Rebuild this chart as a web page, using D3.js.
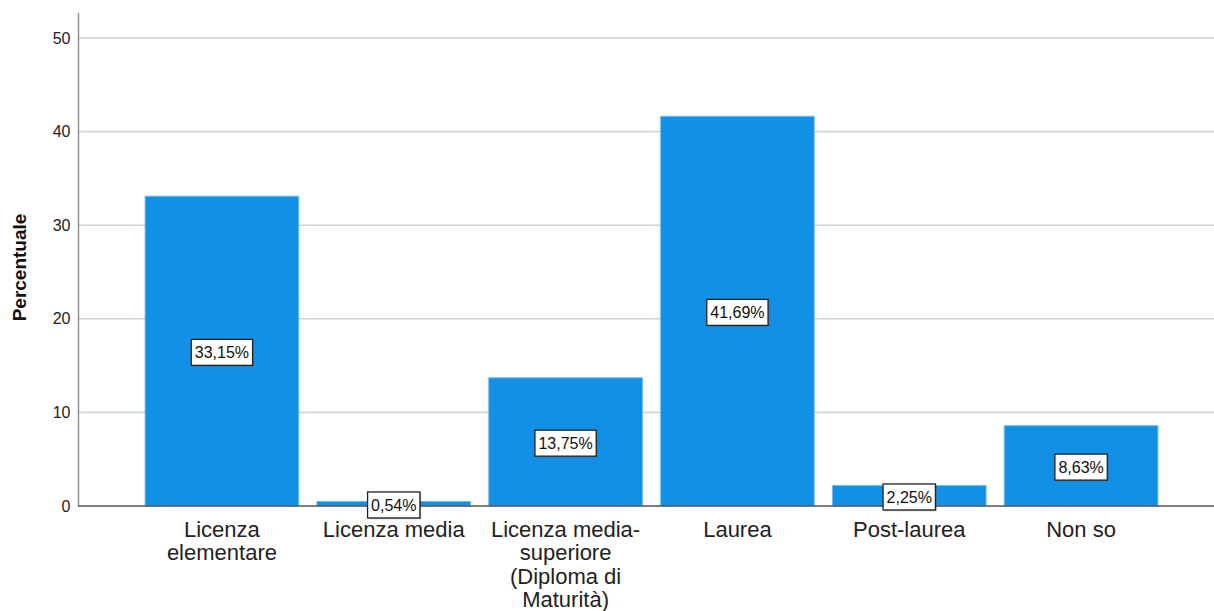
<!DOCTYPE html>
<html>
<head>
<meta charset="utf-8">
<script src="https://cdn.jsdelivr.net/npm/d3@7"></script>
<style>
  html, body { margin: 0; padding: 0; background: #fff; }
  svg { display: block; font-family: "Liberation Sans", Arial, sans-serif; }
</style>
</head>
<body>
<svg id="chart" width="1214" height="611"></svg>
<script>
// Titolo di studio: percentuale di rispondenti per categoria
const categories = [
  "Licenza elementare",
  "Licenza media",
  "Licenza media-superiore (Diploma di Maturità)",
  "Laurea",
  "Post-laurea",
  "Non so"
];
// Righe dell'etichetta dell'asse per ogni categoria
const categoryLines = [
  ["Licenza", "elementare"],
  ["Licenza media"],
  ["Licenza media-", "superiore", "(Diploma di", "Maturità)"],
  ["Laurea"],
  ["Post-laurea"],
  ["Non so"]
];
const percentages = [33.15, 0.54, 13.75, 41.69, 2.25, 8.63];
const yTicks = [0, 10, 20, 30, 40, 50];
const yTitle = "Percentuale";

const svg = d3.select("#chart");
const W = 1214;

const axisX = 78.5;
const plotTop = 13;
const baseY = 506;

const x = d3.scaleBand()
  .domain(categories)
  .range([136, 1167])
  .paddingInner(0.1)
  .paddingOuter(0.05);

const y = d3.scaleLinear()
  .domain([0, 50])
  .range([baseY, 38]);

const itLocale = d3.formatLocale({ decimal: ",", thousands: ".", grouping: [3], currency: ["", " €"] });
const fmt = itLocale.format(".2f");

// Griglia orizzontale
svg.append("g")
  .selectAll("line")
  .data(yTicks.filter(t => t > 0))
  .join("line")
  .attr("x1", axisX)
  .attr("x2", W)
  .attr("y1", d => y(d))
  .attr("y2", d => y(d))
  .attr("stroke", "#d2d2d2")
  .attr("stroke-width", 1.6);

// Asse Y con etichette dei tick
const yAxis = d3.axisLeft(y).tickValues(yTicks).tickSize(0).tickPadding(8);
const gy = svg.append("g")
  .attr("transform", `translate(${axisX},0)`)
  .call(yAxis);
gy.select(".domain").remove();
gy.selectAll("text")
  .attr("font-size", 16)
  .attr("fill", "#222")
  .attr("font-family", "Liberation Sans, Arial, sans-serif");

svg.append("line")
  .attr("x1", axisX).attr("x2", axisX)
  .attr("y1", plotTop).attr("y2", baseY)
  .attr("stroke", "#8a8a8a")
  .attr("stroke-width", 1.4);

// Barre
svg.append("g")
  .selectAll("rect")
  .data(categories)
  .join("rect")
  .attr("x", d => x(d) + 0.5)
  .attr("y", (d, i) => y(percentages[i]) + 0.5)
  .attr("width", x.bandwidth() - 1)
  .attr("height", (d, i) => baseY - y(percentages[i]) - 0.5)
  .attr("fill", "#1290e6")
  .attr("stroke", "#6fbaf0")
  .attr("stroke-width", 1);

// Asse X
svg.append("line")
  .attr("x1", axisX - 0.5).attr("x2", W)
  .attr("y1", baseY).attr("y2", baseY)
  .attr("stroke", "#555")
  .attr("stroke-width", 1.4);

// Etichette delle categorie
const xl = svg.append("g");
categories.forEach((c, i) => {
  const t = xl.append("text")
    .attr("x", x(c) + x.bandwidth() / 2)
    .attr("y", 537)
    .attr("text-anchor", "middle")
    .attr("font-size", 22)
    .attr("fill", "#222");
  categoryLines[i].forEach((line, j) => {
    t.append("tspan")
      .attr("x", x(c) + x.bandwidth() / 2)
      .attr("dy", j === 0 ? 0 : 23.4)
      .text(line);
  });
});

// Etichette dei valori (riquadro bianco al centro della barra)
const vl = svg.append("g");
categories.forEach((c, i) => {
  const cx = x(c) + x.bandwidth() / 2;
  const cy = y(percentages[i] / 2) + 1.5;
  const g = vl.append("g");
  const txt = g.append("text")
    .attr("x", cx)
    .attr("y", cy + 5.6)
    .attr("text-anchor", "middle")
    .attr("font-size", 16)
    .attr("fill", "#111")
    .text(fmt(percentages[i]) + "%");
  const w = txt.node().getComputedTextLength() + 7;
  const h = 26;
  g.insert("rect", "text")
    .attr("x", cx - w / 2 + 1.2)
    .attr("y", cy - h / 2 + 1.2)
    .attr("width", w)
    .attr("height", h)
    .attr("fill", "#555")
    .attr("opacity", 0.5);
  g.insert("rect", "text")
    .attr("x", cx - w / 2)
    .attr("y", cy - h / 2)
    .attr("width", w)
    .attr("height", h)
    .attr("fill", "#fff")
    .attr("stroke", "#222")
    .attr("stroke-width", 1.3);
});

// Titolo asse Y
svg.append("text")
  .attr("transform", `translate(26,${(plotTop + baseY) / 2 + 8}) rotate(-90)`)
  .attr("text-anchor", "middle")
  .attr("font-size", 19)
  .attr("font-weight", "bold")
  .attr("fill", "#111")
  .text(yTitle);
</script>
</body>
</html>
